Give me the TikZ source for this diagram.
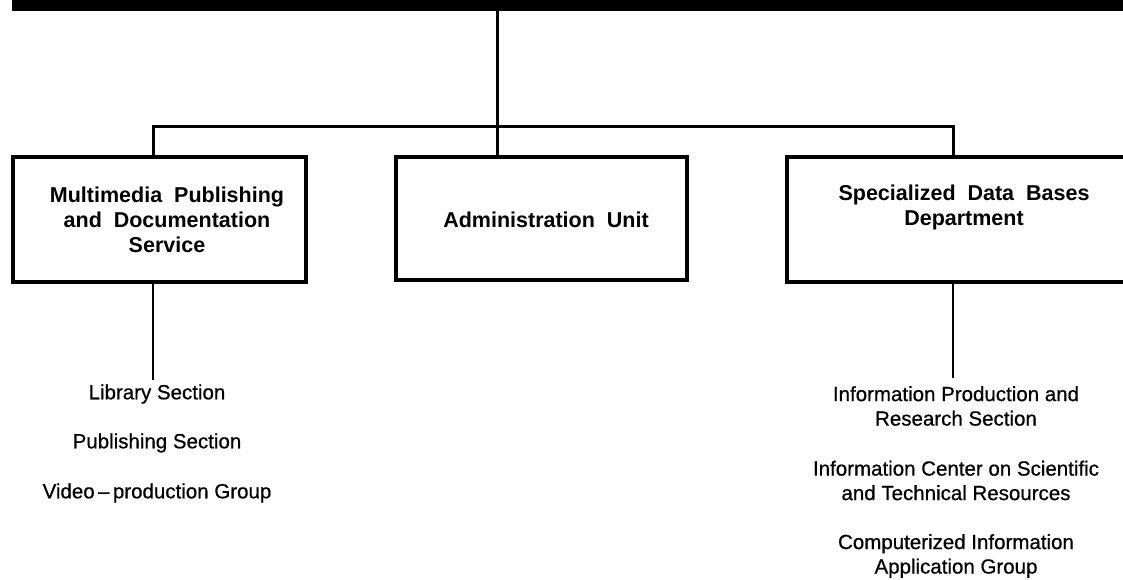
\documentclass[tikz,border=0pt]{standalone}
\usepackage{fontspec}
\setmainfont{Liberation Sans}
\newfontfamily\heavysans[FakeBold=0.6,Ligatures=TeX]{Liberation Sans}
\begin{document}
\begin{tikzpicture}[x=1pt,y=-1pt,
  unitbox/.style={draw=black,line width=3.5pt,inner sep=0pt},
  boxtext/.style={align=center,inner sep=0pt,font=\bfseries\fontsize{21.5}{25}\selectfont},
  subtext/.style={align=center,inner sep=0pt,font=\heavysans\fontsize{20.5}{24.5}\selectfont},
  link/.style={line width=3pt},
  sublink/.style={line width=1.6pt}]
\useasboundingbox (0,0) rectangle (1123,580);
\fill[white] (0,0) rectangle (1123,580);

% heavy top rule
\node[fill=black,inner sep=0pt,minimum width=1120pt,minimum height=11pt,anchor=north west] (bar) at (12,0) {};

% boxes (the right one runs past the page edge)
\node[unitbox,minimum width=293pt,minimum height=125pt] (mm) at (159.5,219.5) {};
\node[unitbox,minimum width=291pt,minimum height=123pt] (adm) at (541.5,218.5) {};
\node[unitbox,minimum width=348pt,minimum height=125pt] (sdb) at (961,219.5) {};

\node[boxtext] (mmt) at (167,220) {Multimedia\ \ Publishing\\and\ \ Documentation\\Service};
\node[boxtext] (admt) at (546,220) {Administration\ \ Unit};
\node[boxtext] (sdbt) at (964,207.5) {Specialized\ \ Data\ \ Bases\\Department};

% branch points
\coordinate (top) at (497,10);
\coordinate (hub) at (497,127);
\coordinate (hl) at (153,127);
\coordinate (hr) at (953,127);

\draw[link] (top) -- (hub);
\draw[link,line cap=rect] (hl) -- (hr);
\draw[link] (hl) -- (hl |- mm.north);
\draw[link] (hub) -- (hub |- adm.north);
\draw[link] (hr) -- (hr |- sdb.north);

% sections under the left box
\coordinate (le) at (153,380);
\draw[sublink] (le |- mm.south) -- (le);
\node[subtext] (lib) at (157,394) {Library Section};
\node[subtext] (pub) at (157,443) {Publishing Section};
\node[subtext] (vid) at (157,493) {Video\,–\,production Group};

% sections under the right box
\coordinate (re) at (953,378);
\draw[sublink] (re |- sdb.south) -- (re);
\node[subtext] (ipr) at (956,406) {Information Production and\\Research Section};
\node[subtext] (ics) at (956,480.5) {Information Center on Scientific\\and Technical Resources};
\node[subtext] (cia) at (956,556) {Computerized Information\\Application Group};
\end{tikzpicture}
\end{document}
